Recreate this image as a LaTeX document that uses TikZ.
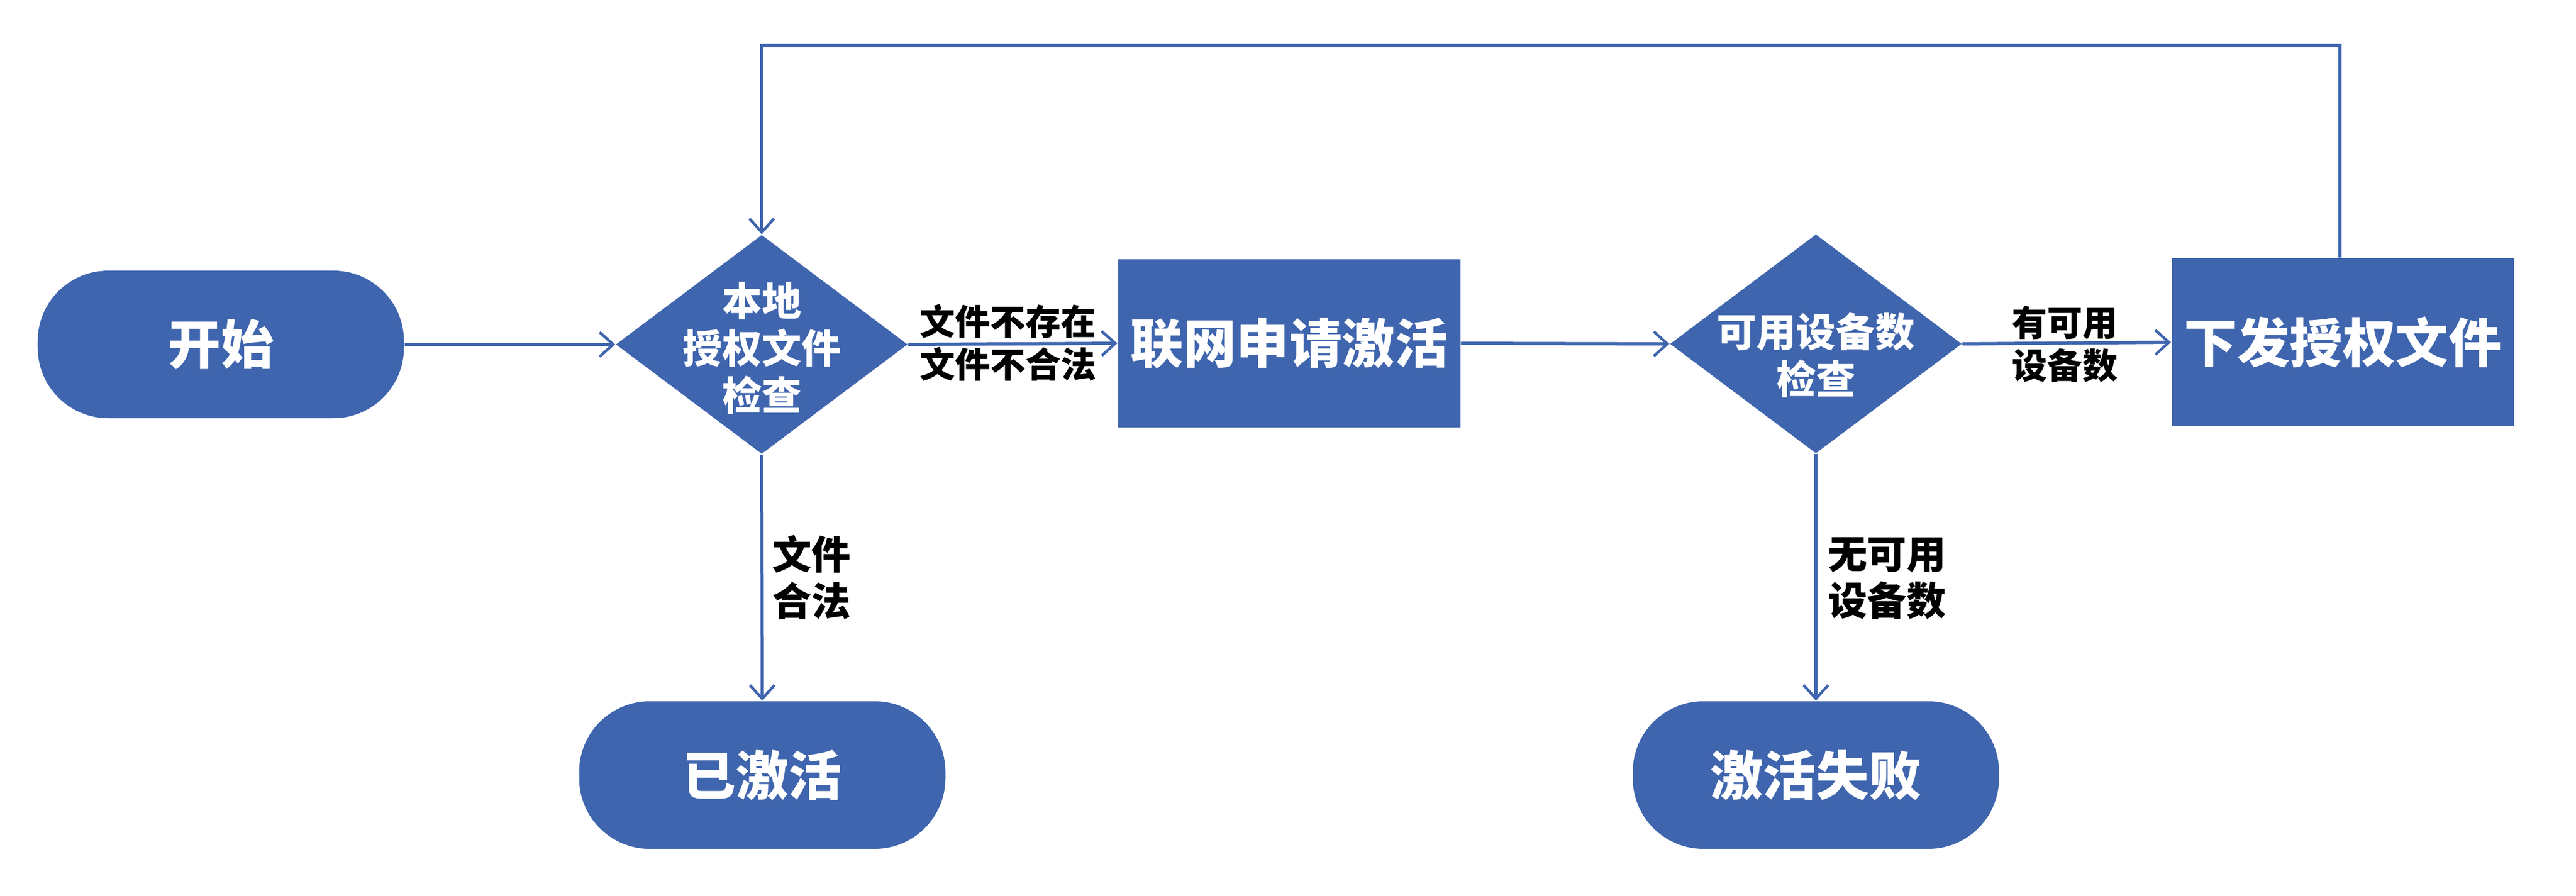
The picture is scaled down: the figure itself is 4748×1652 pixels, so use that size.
\documentclass[tikz,border=0pt]{standalone}
\usepackage{fontspec}
\setmainfont{Noto Sans CJK SC}
\usetikzlibrary{shapes.geometric,arrows.meta}
\definecolor{fblue}{HTML}{3F65AE}
\begin{document}
\begin{tikzpicture}[x=0.2pt,y=-0.2pt,
  term/.style={draw=none,fill=fblue,rectangle,rounded corners=26pt,minimum width=135pt,minimum height=54.4pt,inner sep=0pt,text=white,font=\fontsize{19.5pt}{23pt}\selectfont\bfseries},
  proc/.style={draw=none,fill=fblue,rectangle,minimum width=126.2pt,minimum height=62pt,inner sep=0pt,text=white,font=\fontsize{19.5pt}{23pt}\selectfont\bfseries},
  dec/.style={draw=none,fill=fblue,diamond,minimum width=107.6pt,minimum height=80.8pt,inner sep=0pt},
  dectext/.style={text=white,align=center,inner sep=0pt,font=\fontsize{14.6pt}{17.4pt}\selectfont\bfseries},
  hlab/.style={text=black,align=center,inner sep=0pt,font=\fontsize{13pt}{15.8pt}\selectfont\bfseries},
  vlab/.style={text=black,align=left,inner sep=0pt,font=\fontsize{14.5pt}{17.2pt}\selectfont\bfseries},
  arr/.style={draw=fblue,line width=1.2pt,-{Straight Barb[length=5pt,width=9pt,line width=1pt]}}
]
\useasboundingbox (0,0) rectangle (4748,1652);

\node[term] (start) at (407,635) {开始};
\node[dec] (d1) at (1404,635) {};
\node[dectext] (d1t) at (1404,642) {本地\\授权文件\\检查};
\node[proc] (b1) at (2376,633) {联网申请激活};
\node[dec] (d2) at (3347,634) {};
\node[dectext] (d2t) at (3347,655) {可用设备数\\检查};
\node[proc] (b3) at (4318,631) {下发授权文件};
\node[term] (done) at (1405,1429) {已激活};
\node[term] (fail) at (3347,1429) {激活失败};

\draw[arr] (start.east) -- (d1.west);
\draw[arr] (d1.east) -- (b1.west);
\draw[arr] (b1.east) -- (d2.west);
\draw[arr] (d2.east) -- (b3.west);
\draw[arr] (d1.south) -- (done.north);
\draw[arr] (d2.south) -- (fail.north);
\draw[arr] ([xshift=-1pt]b3.north) -- ++(0,-391) -| (d1.north);

\node[hlab] (l1) at (1858,632) {文件不存在\\文件不合法};
\node[hlab] (l2) at (3806,634) {有可用\\设备数};
\node[vlab,anchor=west] (l3) at (1422,1064) {文件\\合法};
\node[vlab,anchor=west] (l4) at (3368,1066) {无可用\\设备数};
\end{tikzpicture}
\end{document}
